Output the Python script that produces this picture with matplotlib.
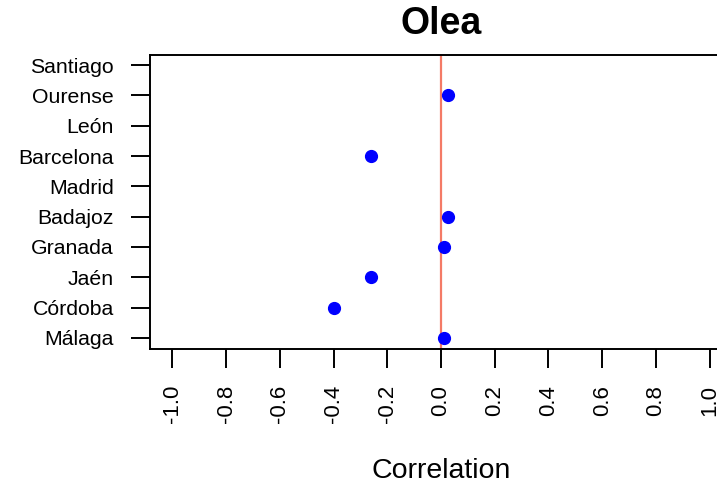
import matplotlib
matplotlib.use("Agg")
import matplotlib.pyplot as plt
import numpy as np

# Data (bottom to top as drawn)
cities = ["Málaga", "Córdoba", "Jaén", "Granada", "Badajoz",
          "Madrid", "Barcelona", "León", "Ourense", "Santiago"]
correlation = [0.01, -0.40, -0.26, 0.01, 0.025,
               np.nan, -0.26, np.nan, 0.025, np.nan]
xticks = [-1.0, -0.8, -0.6, -0.4, -0.2, 0.0, 0.2, 0.4, 0.6, 0.8, 1.0]
xticklabels = ["-1.0", "-0.8", "-0.6", "-0.4", "-0.2", "0.0",
               "0.2", "0.4", "0.6", "0.8", "1.0"]

plt.rcParams['font.family'] = ['Liberation Sans', 'DejaVu Sans']

W, H = 717, 488
fig = plt.figure(figsize=(W / 100, H / 100), dpi=100)
left, right, top, bottom = 150, 732, 55, 349
ax = fig.add_axes([left / W, 1 - bottom / H, (right - left) / W, (bottom - top) / H])

ypos = np.arange(1, len(cities) + 1)
ax.axvline(0, color="#F47A66", linewidth=1.6, zorder=1)
ax.plot(correlation, ypos, linestyle="none", marker="o", color="#0000FF",
        markersize=8.5, zorder=2)

ax.set_xlim(-1.0834, 1.0834)
ax.set_ylim(0.637, 10.33)
ax.set_yticks(ypos)
ax.set_yticklabels(cities, fontsize=15.3)
ax.set_xticks(xticks)
ax.set_xticklabels(xticklabels, rotation=90, fontsize=16)
ax.tick_params(axis="both", length=14, width=1.4, color="black")
ax.tick_params(axis="y", pad=12)
ax.tick_params(axis="x", pad=12)
for s in ax.spines.values():
    s.set_linewidth(1.4)

fig.text(441 / W, 1 - 24.5 / H, "Olea", ha="center", va="center",
         fontsize=27, fontweight="bold")
fig.text(441 / W, 1 - 471 / H, "Correlation", ha="center", va="center",
         fontsize=20.5)

fig.savefig("out.png", dpi=100)
